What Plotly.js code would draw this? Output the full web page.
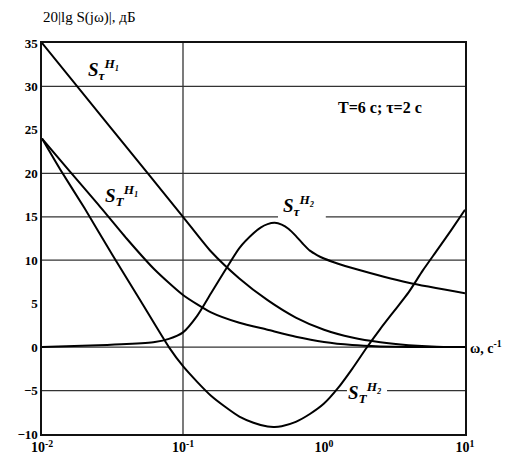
<!DOCTYPE html>
<html>
<head>
<meta charset="utf-8">
<script src="https://cdn.plot.ly/plotly-3.0.1.min.js"></script>
<style>html,body{margin:0;padding:0;background:#fff;}#chart{width:508px;height:461px;}</style>
</head>
<body>
<div id="chart"></div>
<script>
// ---- data ----
// S_tau^H1
const omegaTauH1 = [0.01, 0.0316, 0.1, 0.158, 0.251, 0.398, 0.631, 1.0, 1.585, 2.51, 3.98, 6.31, 10];
const valTauH1   = [35, 25, 15, 11.0, 7.9, 5.4, 3.4, 2.0, 1.1, 0.55, 0.22, 0.05, 0];
// S_T^H1
const omegaTH1 = [0.01, 0.0158, 0.0251, 0.0398, 0.0631, 0.1, 0.158, 0.251, 0.398, 0.631, 1.0, 1.585, 2.51, 3.98, 10];
const valTH1   = [24, 20.2, 16.4, 12.5, 8.9, 6.0, 4.0, 2.8, 2.0, 1.2, 0.6, 0.25, 0.08, 0, 0];
// S_tau^H2
const omegaTauH2 = [0.01, 0.0251, 0.0398, 0.0631, 0.0794, 0.1, 0.126, 0.158, 0.2, 0.251, 0.316, 0.355, 0.398, 0.447, 0.501, 0.562, 0.631, 0.708, 0.794, 0.891, 1.0, 1.259, 1.585, 3.98, 10];
const valTauH2   = [0, 0.2, 0.35, 0.6, 0.95, 1.7, 3.6, 6.2, 8.9, 11.4, 13.1, 13.75, 14.15, 14.3, 14.1, 13.6, 12.8, 11.9, 11.1, 10.6, 10.2, 9.6, 9.1, 7.4, 6.2];
// S_T^H2
const omegaTH2 = [0.01, 0.0134, 0.02, 0.0316, 0.0501, 0.0794, 0.1, 0.126, 0.158, 0.2, 0.251, 0.316, 0.398, 0.447, 0.501, 0.631, 0.794, 1.0, 1.259, 1.585, 2.0, 2.51, 3.16, 3.98, 5.01, 6.31, 7.94, 10];
const valTH2   = [24, 20.5, 16, 10.6, 5.3, 0, -2.2, -4.0, -5.6, -6.9, -8.0, -8.7, -9.15, -9.2, -9.1, -8.6, -7.7, -6.5, -4.7, -2.5, -0.1, 2.1, 4.2, 6.3, 8.8, 11.1, 13.4, 15.8];

const yTicks = [-10, -5, 0, 5, 10, 15, 20, 25, 30, 35];
const xTicks = [0.01, 0.1, 1, 10];
const xTickText = ['10<sup>-2</sup>', '10<sup>-1</sup>', '10<sup>0</sup>', '10<sup>1</sup>'];

// grid lines drawn in the reference (horizontal ones, with gaps around labels)
const gridFull = [30, 20, 10, 0];
const grid15 = {y: 15, gapFrom: 0.472, gapTo: 1.03};
const gridM5 = {y: -5, gapFrom: 1.455, gapTo: 2.80};
const gridVert = [0.1];
const xMin = 0.01, xMax = 10, yMin = -10, yMax = 35;

// ---- build grid trace ----
const gx = [], gy = [];
gridFull.forEach(v => { gx.push(xMin, xMax, null); gy.push(v, v, null); });
[grid15, gridM5].forEach(g => {
  gx.push(xMin, g.gapFrom, null, g.gapTo, xMax, null);
  gy.push(g.y, g.y, null, g.y, g.y, null);
});
gridVert.forEach(v => { gx.push(v, v, null); gy.push(yMin, yMax, null); });

const gridTrace = {x: gx, y: gy, mode: 'lines', line: {color: '#333', width: 1.3},
  hoverinfo: 'skip', showlegend: false, connectgaps: false};

function curve(x, y) {
  return {x: x, y: y, mode: 'lines', line: {color: '#000', width: 2, shape: 'spline', smoothing: 0.6},
    showlegend: false, hoverinfo: 'skip'};
}

const data = [gridTrace, curve(omegaTauH1, valTauH1), curve(omegaTH1, valTH1),
  curve(omegaTauH2, valTauH2), curve(omegaTH2, valTH2)];

const serif = 'Liberation Serif, Times New Roman, serif';
const labFont = {family: serif, size: 19, color: '#000', style: 'italic', weight: 'bold'};

const layout = {
  width: 508, height: 461,
  margin: {l: 42, r: 43, t: 43, b: 27, pad: 0},
  paper_bgcolor: '#fff', plot_bgcolor: '#fff',
  showlegend: false,
  xaxis: {type: 'log', range: [-2, 1], tickvals: xTicks, ticktext: xTickText,
    showgrid: false, zeroline: false, showline: true, mirror: true, linecolor: '#111', linewidth: 1.6,
    ticks: '', tickfont: {family: serif, size: 14, color: '#000', weight: 'bold'}},
  yaxis: {range: [yMin, yMax], tickvals: yTicks, showgrid: false, zeroline: false,
    showline: true, mirror: true, linecolor: '#111', linewidth: 1.6, ticks: '',
    tickfont: {family: serif, size: 13, color: '#000', weight: 'bold'}},
  annotations: [
    {xref: 'paper', yref: 'paper', x: -0.002, y: 1.064, xanchor: 'left', yanchor: 'middle', showarrow: false,
      text: '20|lg S(jω)|, дБ', font: {family: serif, size: 15, color: '#000'}},
    {xref: 'paper', yref: 'paper', x: 0.799, y: 0.836, xanchor: 'center', yanchor: 'middle', showarrow: false,
      text: 'T=6 c; τ=2 c', font: {family: serif, size: 16, color: '#000', weight: 'bold'}},
    {xref: 'paper', yref: 'y', x: 1.007, y: 0, xanchor: 'left', yanchor: 'middle', showarrow: false,
      text: 'ω, c<sup>-1</sup>', font: {family: serif, size: 14, color: '#000', weight: 'bold'}},
    {xref: 'x', yref: 'y', x: -1.567, y: 31.9, showarrow: false, text: 'S<sub>τ</sub><sup>H₁</sup>', font: labFont},
    {xref: 'x', yref: 'y', x: -1.433, y: 17.5, showarrow: false, text: 'S<sub>T</sub><sup>H₁</sup>', font: labFont},
    {xref: 'x', yref: 'y', x: -0.184, y: 16.3, showarrow: false, text: 'S<sub>τ</sub><sup>H₂</sup>', font: labFont},
    {xref: 'x', yref: 'y', x: 0.291, y: -5.2, showarrow: false, text: 'S<sub>T</sub><sup>H₂</sup>', font: labFont}
  ]
};

Plotly.newPlot('chart', data, layout, {staticPlot: true, displayModeBar: false});
</script>
</body>
</html>
